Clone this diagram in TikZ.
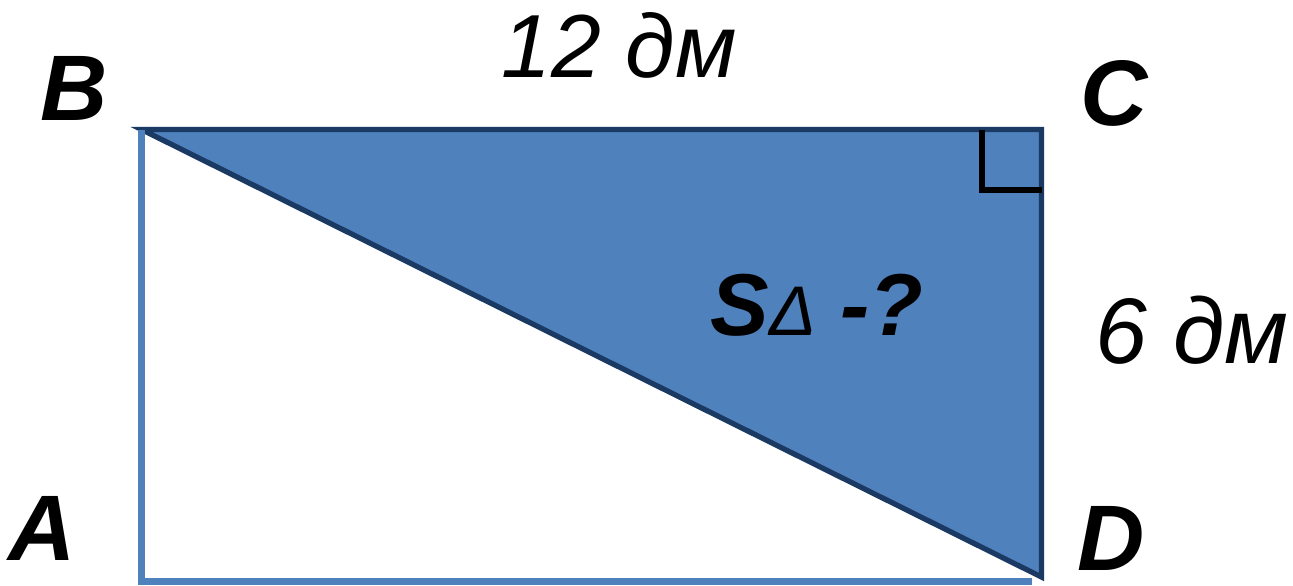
\documentclass[tikz,border=0pt]{standalone}
\usepackage{fontspec}
\setmainfont{Liberation Sans}
\usepackage{tikz}
\definecolor{fillblue}{HTML}{4F81BD}
\definecolor{edgenavy}{HTML}{1A3A64}

\begin{document}
\begin{tikzpicture}[x=0.02cm, y=-0.02cm,
    every node/.style={inner sep=0pt, anchor=base},
    vertex/.style={font=\fontsize{53}{53}\selectfont\bfseries\itshape, text depth=0pt},
    measure/.style={font=\fontsize{51}{51}\selectfont\itshape},
    question/.style={font=\fontsize{50}{50}\selectfont\bfseries\itshape},
    side/.style={draw=fillblue, line width=4.2pt, line join=miter},
    tri/.style={draw=edgenavy, fill=fillblue, line width=3pt, line join=miter},
    rightangle/.style={draw=black, line width=3pt}
]
\useasboundingbox (0,0) rectangle (1293,585);
%% ============================================================
%% CORNERS of the rectangle ABCD
%% ============================================================
\coordinate (pA) at (141.5,581.5);
\coordinate (pB) at (141.5,129.5);
\coordinate (pC) at (1041.5,129.5);
\coordinate (pD) at (1041.5,577);
\coordinate (pE) at (1032,581.5);
%% shaded triangle BCD
\draw[tri] (pB) -- (pC) -- (pD) -- cycle;
%% light sides AB and AD
\draw[side] (pB) -- (pA) -- (pE);
%% right angle at C
\coordinate (r1) at (982,129.5);
\coordinate (r2) at (982,190);
\coordinate (r3) at (1041.5,190);
\draw[rightangle] (r1) -- (r2) -- (r3);
%% ============================================================
%% LABELS
%% ============================================================
\node[vertex] (labB) at (74,120)   {B};
\node[vertex] (labC) at (1114,125) {C};
\node[vertex] (labA) at (42,560)   {A};
\node[vertex] (labD) at (1111,570) {D};
\node[measure] (lenBC) at (619,77)  {12 дм};
\node[measure, font=\fontsize{53}{53}\selectfont\itshape] (lenCD) at (1192,363) {6 дм};
\node[question] (area) at (817,335) {S{\mdseries\fontsize{40}{40}\selectfont Δ} -?};
\end{tikzpicture}
\end{document}
